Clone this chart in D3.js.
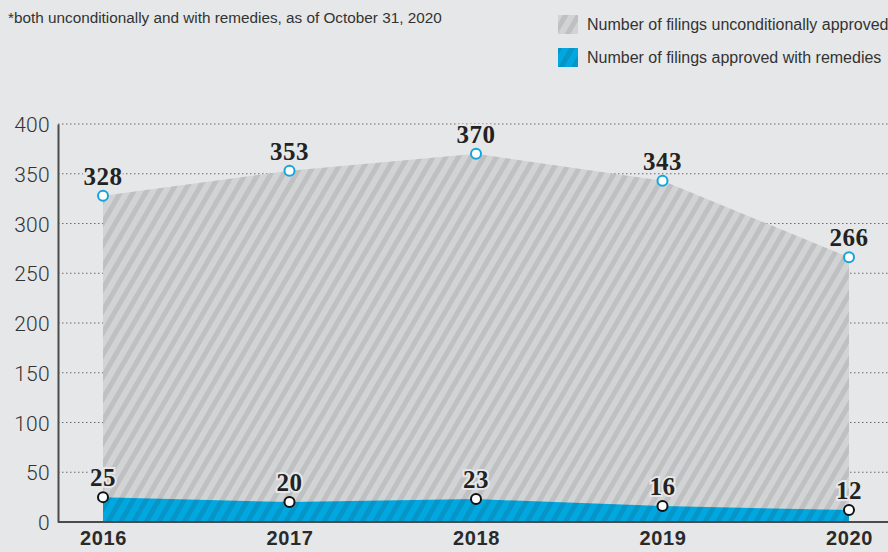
<!DOCTYPE html>
<html>
<head>
<meta charset="utf-8">
<script src="https://cdn.jsdelivr.net/npm/d3@7"></script>
<style>
  html, body { margin: 0; padding: 0; background: #e6e7e8; }
  svg { display: block; }
</style>
</head>
<body>
<svg id="chart" width="888" height="552"></svg>
<script>
// Merger filings approved per year
const years = ["2016", "2017", "2018", "2019", "2020"];
const unconditional = [328, 353, 370, 343, 266];
const withRemedies = [25, 20, 23, 16, 12];
const yTicks = [0, 50, 100, 150, 200, 250, 300, 350, 400];
const legendLabels = ["Number of filings unconditionally approved", "Number of filings approved with remedies"];
const note = "*both unconditionally and with remedies, as of October 31, 2020";

const W = 888, H = 552;
const bg = "#e6e7e8";
const svg = d3.select("#chart");

const x = d3.scalePoint().domain(years).range([103, 849]);
const y = d3.scaleLinear().domain([0, 400]).range([522, 124]);
const plotLeft = 58;

// hatch patterns
const defs = svg.append("defs");
function hatch(id, base, stripe) {
  const p = defs.append("pattern")
    .attr("id", id)
    .attr("patternUnits", "userSpaceOnUse")
    .attr("width", 11).attr("height", 11)
    .attr("patternTransform", "rotate(30)");
  p.append("rect").attr("width", 11).attr("height", 11).attr("fill", base);
  p.append("rect").attr("x", 0).attr("width", 5).attr("height", 11).attr("fill", stripe);
}
hatch("hatchGray", "#d2d3d5", "#bfc0c2");
hatch("hatchBlue", "#00a8df", "#0795c7");

// background
svg.append("rect").attr("width", W).attr("height", H).attr("fill", bg);

// gridlines
svg.append("g").selectAll("line")
  .data(yTicks.filter(d => d > 0))
  .join("line")
  .attr("x1", plotLeft).attr("x2", W)
  .attr("y1", d => y(d)).attr("y2", d => y(d))
  .attr("stroke", "#6b6c6e")
  .attr("stroke-width", 1)
  .attr("stroke-dasharray", "1.5,2.5");

// areas
const area = vals => d3.area()
  .x((d, i) => x(years[i]))
  .y0(y(0))
  .y1(d => y(d))(vals);

svg.append("path").attr("d", area(unconditional)).attr("fill", "url(#hatchGray)");
svg.append("path").attr("d", area(withRemedies)).attr("fill", "url(#hatchBlue)");

// y axis
const yAxis = d3.axisLeft(y).tickValues(yTicks).tickSize(0).tickPadding(8);
const gy = svg.append("g").attr("transform", `translate(${plotLeft},0)`).call(yAxis);
gy.select(".domain").attr("stroke", "#4a4b4d").attr("stroke-width", 2);
gy.selectAll("text")
  .attr("font-family", "Roboto, 'Liberation Sans', sans-serif")
  .attr("font-weight", 300)
  .attr("font-size", 21)
  .attr("letter-spacing", "0.3px")
  .attr("fill", "#333")
  .attr("dy", "0.36em");

// x axis
const xAxis = d3.axisBottom(x).tickSize(0).tickPadding(9);
const gx = svg.append("g").attr("transform", `translate(0,${y(0)})`).call(xAxis);
gx.select(".domain").remove();
svg.append("line")
  .attr("x1", plotLeft).attr("x2", W)
  .attr("y1", y(0)).attr("y2", y(0))
  .attr("stroke", "#4a4b4d").attr("stroke-width", 2);
gx.selectAll("text")
  .attr("font-family", "'Liberation Sans', Arial, sans-serif")
  .attr("font-weight", 700)
  .attr("font-size", 20)
  .attr("letter-spacing", "0.6px")
  .attr("fill", "#2a2a2a");

// value labels and points
function series(vals, ring) {
  const g = svg.append("g");
  g.selectAll("text")
    .data(vals)
    .join("text")
    .attr("x", (d, i) => x(years[i]))
    .attr("y", d => y(d) - 11)
    .attr("text-anchor", "middle")
    .attr("font-family", "'Liberation Serif', 'DejaVu Serif', serif")
    .attr("font-weight", 700)
    .attr("font-size", 25)
    .attr("letter-spacing", "0.5px")
    .attr("fill", "#222")
    .attr("stroke", bg)
    .attr("stroke-width", 4)
    .attr("paint-order", "stroke")
    .text(d => d);
  g.selectAll("circle")
    .data(vals)
    .join("circle")
    .attr("cx", (d, i) => x(years[i]))
    .attr("cy", d => y(d))
    .attr("r", 5)
    .attr("fill", "#fff")
    .attr("stroke", ring)
    .attr("stroke-width", 2);
}
series(unconditional, "#14a5dd");
series(withRemedies, "#111");

// note
svg.append("text")
  .attr("x", 8).attr("y", 23)
  .attr("font-family", "'Liberation Sans', Arial, sans-serif")
  .attr("font-size", 15.3)
  .attr("fill", "#333")
  .text(note);

// legend
const leg = svg.append("g");
const fills = ["url(#hatchGray)", "url(#hatchBlue)"];
legendLabels.forEach((t, i) => {
  const yy = 15 + i * 33;
  leg.append("rect").attr("x", 558).attr("y", yy).attr("width", 20).attr("height", 19).attr("fill", fills[i]);
  leg.append("text")
    .attr("x", 587).attr("y", yy + 15)
    .attr("font-family", "'Liberation Sans', Arial, sans-serif")
    .attr("font-size", 16)
    .attr("fill", "#333")
    .text(t);
});
</script>
</body>
</html>
